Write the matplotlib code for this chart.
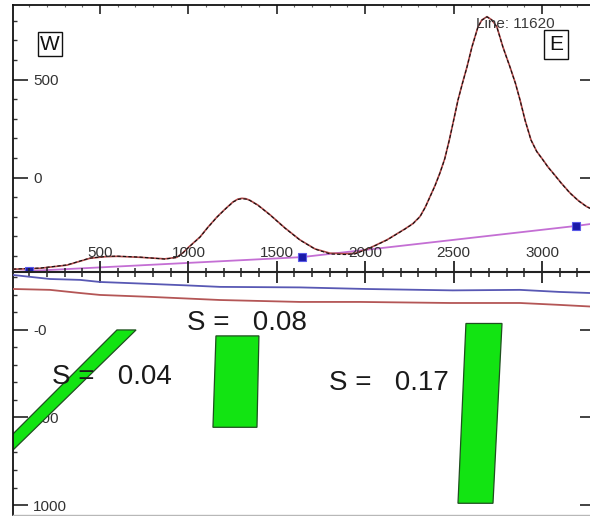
import matplotlib
matplotlib.use("Agg")
import matplotlib.pyplot as plt
from matplotlib.ticker import MultipleLocator, FixedLocator, NullFormatter
from matplotlib.patches import Polygon

plt.rcParams["font.family"] = ["Liberation Sans", "DejaVu Sans"]

# ---- profile: distance along line (m) and magnetic anomaly (nT) ----
dist = [8, 161, 313, 443, 528, 596, 726, 867, 935, 969,
        1003, 1066, 1110, 1162, 1210, 1253, 1280, 1303, 1325, 1348,
        1394, 1462, 1546, 1631, 1716, 1801, 1886, 1942, 2027, 2123,
        2225, 2270, 2310, 2340, 2366, 2395, 2423, 2450, 2476, 2500,
        2525, 2550, 2576, 2604, 2638, 2660, 2689, 2717, 2745, 2779,
        2800, 2819, 2850, 2876, 2905, 2938, 2970, 3006, 3035, 3062,
        3110, 3158, 3205, 3254, 3300]
anom_obs = [-467, -462, -446, -411, -403, -401, -406, -416, -408, -385,
            -355, -304, -255, -202, -160, -125, -112, -108, -110, -117,
            -142, -191, -258, -319, -365, -390, -393, -390, -360, -319,
            -263, -236, -200, -152, -100, -42, 23, 95, 191, 290,
            395, 480, 564, 666, 768, 803, 820, 803, 768, 666,
            612, 564, 480, 395, 290, 191, 133, 89, 52, 23,
            -30, -79, -118, -150, -168]
anom_calc = [-468, -463, -447, -412, -404, -402, -407, -415, -407, -384,
             -354, -303, -254, -201, -159, -124, -110, -106, -108, -116,
             -141, -190, -257, -318, -364, -386, -389, -387, -359, -318,
             -262, -235, -199, -151, -99, -41, 24, 96, 192, 291,
             396, 481, 565, 667, 769, 804, 821, 804, 769, 667,
             613, 565, 481, 396, 291, 192, 134, 90, 53, 24,
             -29, -78, -117, -149, -167]

# regional field and its control points
reg_dist = [8, 98, 1642, 3192, 3300]
reg_anom = [-482, -477, -406, -247, -234]
ctrl_dist = [98, 1642, 3192]
ctrl_anom = [-477, -406, -247]

# ---- section: surfaces (depth, m) ----
topo_dist = [8, 217, 387, 500, 783, 1003, 1179, 1631, 2004, 2496, 2875, 3102, 3271, 3300]
topo_depth = [-314, -291, -286, -274, -263, -254, -246, -243, -234, -226, -229, -217, -211, -210]
base_dist = [8, 217, 387, 500, 783, 1179, 1631, 1971, 2480, 2875, 3102, 3271, 3300]
base_depth = [-234, -229, -211, -200, -189, -171, -160, -160, -154, -154, -143, -134, -132]

# ---- model bodies (distance, depth) and susceptibilities ----
body1_x = [596, 704, -200, -200]
body1_z = [0, 0, 891, 804]
body2_x = [1156, 1399, 1388, 1139]
body2_z = [34, 34, 556, 556]
body3_x = [2570, 2774, 2723, 2525]
body3_z = [-37, -37, 990, 990]
bodies = [(body1_x, body1_z), (body2_x, body2_z), (body3_x, body3_z)]
suscept = [0.04, 0.08, 0.17]
label_x = [229, 992, 1795]
label_z = [309, 0, 343]

# ---- layout ----
W, H = 590, 516
fig = plt.figure(figsize=(W / 100, H / 100), dpi=100)


def box(l, t, r, b):
    return [l / W, 1 - b / H, (r - l) / W, (b - t) / H]


ax_top = fig.add_axes(box(13, 4.5, 595, 272))
ax_bot = fig.add_axes(box(13, 272, 595, 515))

XLIM = (8, 3300)
lab_col = "#333333"
pt = 0.72  # points per pixel at 100 dpi

# upper panel: anomaly curves
ax_top.set_xlim(*XLIM)
ax_top.set_ylim(-482, 883)
ax_top.plot(reg_dist, reg_anom, color="#c46fd4", lw=1.3, zorder=2)
ax_top.plot(ctrl_dist, ctrl_anom, ls="none", marker="s", ms=5.5,
            mfc="#1a1aa8", mec="#5a5ae8", mew=0.8, zorder=5)
ax_top.plot(dist, anom_calc, color="#b04848", lw=1.2, zorder=3)
ax_top.plot(dist, anom_obs, color="#111111", lw=0.8, ls=(0, (3, 2)), zorder=4)

for s in ("top", "left", "right"):
    ax_top.spines[s].set_linewidth(1.3)
    ax_top.spines[s].set_color("#111111")
ax_top.spines["bottom"].set_visible(False)

ax_top.xaxis.set_major_locator(MultipleLocator(500))
ax_top.xaxis.set_minor_locator(MultipleLocator(100))
ax_top.tick_params(axis="x", which="both", bottom=False, top=True,
                   labelbottom=False, labeltop=False, direction="in")
ax_top.tick_params(axis="x", which="major", length=9 * pt, width=1.2, color="#222222")
ax_top.tick_params(axis="x", which="minor", length=2.5 * pt, width=0.8, color="#666666")

ax_top.yaxis.set_major_locator(FixedLocator([0, 500]))
ax_top.yaxis.set_minor_locator(MultipleLocator(100))
ax_top.set_yticklabels(["0", "500"], ha="left")
ax_top.tick_params(axis="y", which="both", left=True, right=True, direction="in",
                   labelleft=True, labelright=False, pad=-20 * pt,
                   labelsize=11, labelcolor=lab_col)
ax_top.tick_params(axis="y", which="major", length=15 * pt, width=1.2, color="#222222")
ax_top.tick_params(axis="y", which="minor", length=4 * pt, width=1.0, color="#333333")

# lower panel: section with bodies
ax_bot.set_xlim(*XLIM)
ax_bot.set_ylim(1057, -331)
ax_bot.plot(topo_dist, topo_depth, color="#5858b4", lw=1.3, zorder=3)
ax_bot.plot(base_dist, base_depth, color="#b45656", lw=1.3, zorder=3)
for (bx, bz) in bodies:
    ax_bot.add_patch(Polygon(list(zip(bx, bz)), closed=True, facecolor="#12e412",
                             edgecolor="#1f4f1f", lw=0.9, zorder=2))
for sx, sz, sv in zip(label_x, label_z, suscept):
    ax_bot.text(sx, sz, f"S =   {sv:.2f}", fontsize=20, color="#1a1a1a",
                ha="left", va="baseline", zorder=6)

ax_bot.spines["top"].set_linewidth(1.5)
ax_bot.spines["top"].set_color("#222222")
for s in ("left", "right"):
    ax_bot.spines[s].set_linewidth(1.3)
    ax_bot.spines[s].set_color("#111111")
ax_bot.spines["bottom"].set_color("#b8b8b8")
ax_bot.spines["bottom"].set_linewidth(1.0)

ax_bot.xaxis.set_major_locator(MultipleLocator(500))
ax_bot.xaxis.set_minor_locator(MultipleLocator(100))
ax_bot.xaxis.set_minor_formatter(NullFormatter())
ax_bot.tick_params(axis="x", which="both", bottom=False, top=True,
                   labelbottom=False, labeltop=True, direction="inout",
                   labelsize=11, labelcolor=lab_col, pad=1)
ax_bot.tick_params(axis="x", which="major", length=22 * pt, width=1.3, color="#222222")
ax_bot.tick_params(axis="x", which="minor", length=9 * pt, width=1.1, color="#222222")

ax_bot.yaxis.set_major_locator(FixedLocator([0, 500, 1000]))
ax_bot.yaxis.set_minor_locator(MultipleLocator(100))
ax_bot.set_yticklabels(["-0", "500", "1000"], ha="left")
ax_bot.tick_params(axis="y", which="both", left=True, right=True, direction="in",
                   labelleft=True, labelright=False, pad=-20 * pt,
                   labelsize=11, labelcolor=lab_col)
ax_bot.tick_params(axis="y", which="major", length=15 * pt, width=1.2, color="#222222")
ax_bot.tick_params(axis="y", which="minor", length=4 * pt, width=1.0, color="#333333")

# line annotations
fig.text(50 / W, 1 - 44 / H, "W", fontsize=15, ha="center", va="center", color="#111111",
         bbox=dict(boxstyle="square,pad=0.12", fc="white", ec="#111111", lw=1.0))
fig.text(556 / W, 1 - 44.5 / H, "E", fontsize=15, ha="center", va="center", color="#111111",
         bbox=dict(boxstyle="square,pad=0.25", fc="white", ec="#111111", lw=1.0))
fig.text(515 / W, 1 - 23.5 / H, "Line: 11620", fontsize=11, ha="center", va="center",
         color="#3a3a3a")

fig.savefig("out.png", dpi=100, facecolor="white")
